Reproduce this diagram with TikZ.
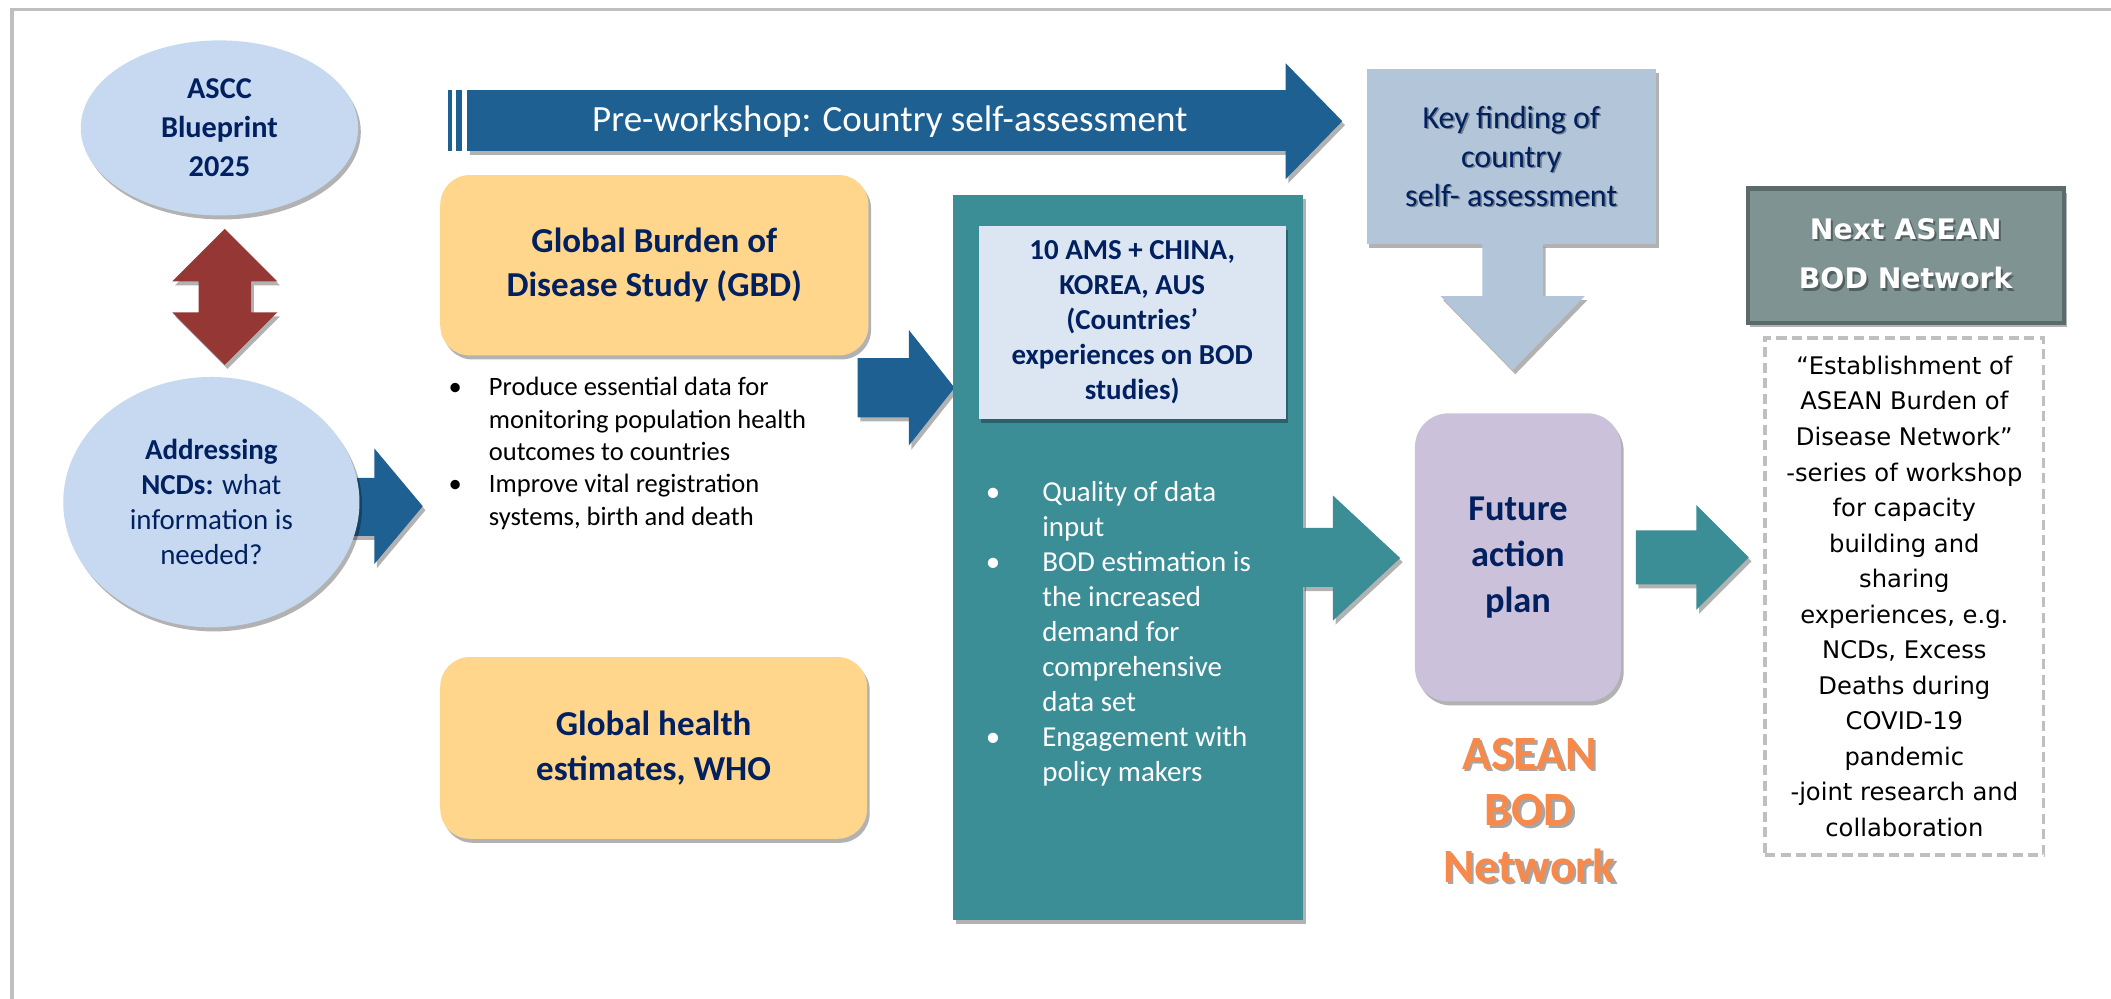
\documentclass[tikz,border=0pt]{standalone}
\usepackage{fontspec}
\setmainfont{Carlito}
\newfontfamily\verd{DejaVu Sans}
\usetikzlibrary{shadows,shapes.geometric}
\definecolor{navy}{HTML}{002060}
\definecolor{ellfill}{HTML}{C6D9F1}
\definecolor{redarr}{HTML}{953735}
\definecolor{bluearr}{HTML}{1F6092}
\definecolor{gold}{HTML}{FFD68C}
\definecolor{tealc}{HTML}{3B8D96}
\definecolor{paleblue}{HTML}{DCE6F2}
\definecolor{keyblue}{HTML}{B3C6D9}
\definecolor{lilac}{HTML}{CCC1DA}
\definecolor{orangeT}{HTML}{F7894A}
\definecolor{slate}{HTML}{7F9393}
\definecolor{slateD}{HTML}{5B6B6B}
\definecolor{framec}{HTML}{BFBFBF}
\begin{document}
\begin{tikzpicture}[x=1pt,y=-1pt,
  shad/.style={drop shadow={shadow xshift=2pt,shadow yshift=-3pt,opacity=0.3,fill=black}},
  ell/.style={ellipse,fill=ellfill,inner sep=0pt,shad,text=navy,align=center},
  goldbox/.style={rectangle,rounded corners=22pt,fill=gold,inner sep=0pt,shad,text=navy,align=center,font=\bfseries\fontsize{26}{33}\selectfont},
  blockarrow/.style={shad},
  tshadow/.style={text=black,opacity=0.35}]
\useasboundingbox (0,0) rectangle (1568,742);
\fill[white] (0,0) rectangle (1568,742);
% frame
\draw[framec,line width=2.5pt] (9,742) -- (9,7) -- (1568,7);

% left column
\node[ell,minimum width=206pt,minimum height=130pt,font=\bfseries\fontsize{22.5}{29}\selectfont] (ascc) at (163,95) {ASCC\\Blueprint\\2025};
\fill[redarr,blockarrow] (167,170) -- (206,209) -- (186.5,209) -- (186.5,232) -- (206,232) -- (167,271) -- (128,232) -- (147.5,232) -- (147.5,209) -- (128,209) -- cycle;
\fill[bluearr,blockarrow] (250,355) -- (278,355) -- (278,333) -- (314,376) -- (278,419) -- (278,398) -- (250,398) -- cycle;
\node[ell,minimum width=220pt,minimum height=186pt,font=\fontsize{21.5}{26}\selectfont] (ncd) at (157,373) {\textbf{Addressing}\\\textbf{NCDs:} what\\information is\\needed?};

% pre-workshop arrow
\fill[bluearr] (333,67) rectangle (336,112);
\fill[bluearr] (338.5,67) rectangle (343,112);
\fill[bluearr,blockarrow] (347,67) -- (955,67) -- (955,47) -- (997,90) -- (955,133) -- (955,112) -- (347,112) -- cycle;
\node[text=white,font=\fontsize{27.5}{30}\selectfont] (pre) at (661,90) {Pre-workshop: Country self-assessment};

% GBD and WHO boxes
\node[goldbox,minimum width=318pt,minimum height=134pt] (gbd) at (486,197) {Global Burden of\\Disease Study (GBD)};
\node[anchor=north west,inner sep=0pt,font=\fontsize{19.7}{24}\selectfont] (gbdlist) at (333,277) {%
\begin{tabular}{@{}p{30pt}@{}l@{}}
\textbullet & Produce essential data for\\
 & monitoring population health\\
 & outcomes to countries\\
\textbullet & Improve vital registration\\
 & systems, birth and death
\end{tabular}};
\node[goldbox,minimum width=317pt,minimum height=135pt] (who) at (485.5,555.5) {Global health\\estimates, WHO};
\fill[bluearr,blockarrow] (637,266) -- (675,266) -- (675,245) -- (709,288) -- (675,331) -- (675,310) -- (637,310) -- cycle;

% teal column
\node[rectangle,fill=tealc,minimum width=260pt,minimum height=538pt,inner sep=0pt,shad] (teal) at (838,414) {};
\node[rectangle,fill=paleblue,minimum width=228pt,minimum height=143pt,inner sep=0pt,shad,text=navy,align=center,font=\bfseries\fontsize{21.5}{26}\selectfont] (ams) at (841,239.5) {10 AMS + CHINA,\\KOREA, AUS\\(Countries’\\experiences on BOD\\studies)};
\node[anchor=north west,inner sep=0pt,text=white,font=\fontsize{21.5}{26}\selectfont] (teallist) at (732,354) {%
\begin{tabular}{@{}p{42pt}@{}l@{}}
\textbullet & Quality of data\\
 & input\\
\textbullet & BOD estimation is\\
 & the increased\\
 & demand for\\
 & comprehensive\\
 & data set\\
\textbullet & Engagement with\\
 & policy makers
\end{tabular}};
\fill[tealc,blockarrow] (967,392) -- (990,392) -- (990,368) -- (1040,414.5) -- (990,461) -- (990,436) -- (967,436) -- cycle;

% key finding
\node[rectangle,fill=keyblue,minimum width=215pt,minimum height=130pt,inner sep=0pt,shad] (key) at (1122.5,116) {};
\node[tshadow,align=center,font=\fontsize{23.8}{29}\selectfont] (keysh) at (1123.7,117.2) {Key finding of\\country\\self- assessment};
\node[text=navy,align=center,font=\fontsize{23.8}{29}\selectfont] (keytxt) at (key.center) {Key finding of\\country\\self- assessment};
\fill[keyblue,blockarrow] (1101,181) -- (1146,181) -- (1146,220) -- (1177,220) -- (1123.5,275) -- (1070,220) -- (1101,220) -- cycle;

% future action plan
\node[rectangle,rounded corners=25pt,fill=lilac,minimum width=153pt,minimum height=214pt,inner sep=0pt,shad,text=navy,align=center,font=\bfseries\fontsize{27}{34}\selectfont] (fut) at (1127.5,414) {Future\\action\\plan};
\node[tshadow,align=center,font=\bfseries\fontsize{35.5}{42}\selectfont] (netsh) at (1137.8,603.8) {ASEAN\\BOD\\Network};
\node[text=orangeT,align=center,font=\bfseries\fontsize{35.5}{42}\selectfont] (net) at (1136,602) {ASEAN\\BOD\\Network};
\fill[tealc,blockarrow] (1215,394) -- (1260,394) -- (1260,375) -- (1299,414) -- (1260,453) -- (1260,434) -- (1215,434) -- cycle;

% next network
\node[rectangle,fill=slate,draw=slateD,line width=3pt,minimum width=235pt,minimum height=100pt,inner sep=0pt,shad] (next) at (1415.5,190) {};
\node[tshadow,align=center,font=\verd\bfseries\fontsize{21}{37}\selectfont] (nextsh) at (1417,190) {Next ASEAN\\BOD Network};
\node[text=white,align=center,font=\verd\bfseries\fontsize{21}{37}\selectfont] (nexttxt) at (1415.5,188.5) {Next ASEAN\\BOD Network};
\node[rectangle,draw=framec,line width=2.5pt,dash pattern=on 7.5pt off 4pt,minimum width=207pt,minimum height=384pt,inner sep=0pt,align=center,font=\verd\fontsize{18}{26.4}\selectfont] (est) at (1414.5,443) {“Establishment of\\ASEAN Burden of\\Disease Network”\\-series of workshop\\for capacity\\building and\\sharing\\experiences, e.g.\\NCDs, Excess\\Deaths during\\COVID-19\\pandemic\\-joint research and\\collaboration};
\end{tikzpicture}
\end{document}
